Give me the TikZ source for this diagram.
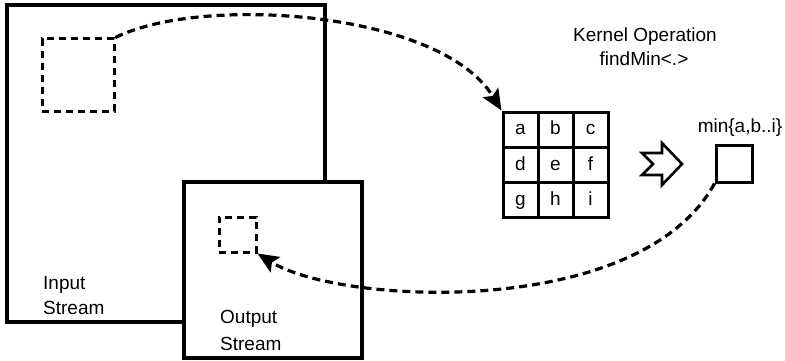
\documentclass[tikz,border=0pt]{standalone}
\usepackage{fontspec}
\setmainfont{Liberation Sans}
\usetikzlibrary{arrows.meta}
\begin{document}
\begin{tikzpicture}[x=1pt,y=-1pt,
  every node/.style={font=\fontsize{19}{22}\selectfont, inner sep=0pt},
  stream/.style={draw, line width=3.4pt, fill=white},
  window/.style={draw, line width=3pt, dash pattern=on 7pt off 5pt},
  cell/.style={draw, line width=3pt, minimum size=35pt, text height=13pt, text depth=2pt},
  flow/.style={line width=3.2pt, dash pattern=on 8pt off 5pt,
    -{Stealth[length=21pt,width=18pt,inset=4pt]}},
  label/.style={anchor=base west}]
\useasboundingbox (0,0) rectangle (785,361);

% input and output streams
\node[stream, minimum width=318pt, minimum height=317pt] (in) at (166,163.5) {};
\node[stream, minimum width=178pt, minimum height=176pt] (out) at (273,270) {};

% read window and write position
\node[window, minimum width=72pt, minimum height=72pt] (win) at (78,75) {};
\node[window, minimum width=37pt, minimum height=35pt] (pix) at (237.5,234.5) {};

% stream labels
\node[label] (inA) at (43,289) {Input};
\node[label] (inB) at (43,314) {Stream};
\node[label] (outA) at (220,323) {Output};
\node[label] (outB) at (220,350) {Stream};

% kernel neighbourhood
\node[cell] (a) at (520.5,129.5) {a};
\node[cell] (b) at (555.5,129.5) {b};
\node[cell] (c) at (590.5,129.5) {c};
\node[cell] (d) at (520.5,164.5) {d};
\node[cell] (e) at (555.5,164.5) {e};
\node[cell] (f) at (590.5,164.5) {f};
\node[cell] (g) at (520.5,199.5) {g};
\node[cell] (h) at (555.5,199.5) {h};
\node[cell] (i) at (590.5,199.5) {i};

% kernel title
\node[anchor=base] (k1) at (645,42) {Kernel Operation};
\node[anchor=base] (k2) at (644,66) {findMin<.>};

% hollow arrow towards the result
\draw[line width=2.6pt, line join=miter]
  (642,153) -- (662,153) -- (662,143) -- (682,164) -- (662,185)
  -- (662,175) -- (642,175) -- (653,164) -- cycle;

% result cell
\node[draw, line width=3pt, minimum width=36pt, minimum height=37pt] (res) at (734,163.5) {};
\node[anchor=base] (resl) at (740,132) {min\{a,b..i\}};

% data flow
\draw[flow] (win.north east) .. controls (200,-5) and (440,10) .. (a.north west);
\draw[flow] (res.south west) .. controls (640,320) and (340,305) .. (pix.south east);
\end{tikzpicture}
\end{document}
